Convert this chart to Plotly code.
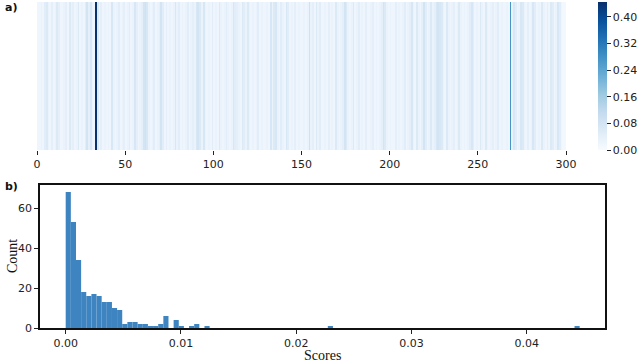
import numpy as np
import plotly.graph_objects as go

# a) per-position weights (300 positions), read off the strip
weights = [
    0.02, 0.02, 0.03, 0.02, 0.05, 0.06, 0.03, 0.02, 0.04, 0.02, 0.03, 0.06, 0.04, 0.02, 0.02, 0.03, 0.04, 0.02, 0.06, 0.03, 0.04, 0.02, 0.03, 0.06, 0.02,
    0.03, 0.02, 0.05, 0.08, 0.04, 0.07, 0.03, 0.02, 0.44, 0.06, 0.02, 0.04, 0.02, 0.03, 0.02, 0.03, 0.02, 0.07, 0.03, 0.02, 0.03, 0.05, 0.02, 0.03, 0.04,
    0.02, 0.03, 0.05, 0.02, 0.03, 0.07, 0.04, 0.02, 0.03, 0.04, 0.08, 0.09, 0.07, 0.03, 0.02, 0.03, 0.05, 0.02, 0.03, 0.04, 0.08, 0.05, 0.02, 0.04, 0.02,
    0.03, 0.02, 0.03, 0.07, 0.03, 0.05, 0.02, 0.03, 0.02, 0.03, 0.05, 0.02, 0.03, 0.04, 0.03, 0.07, 0.08, 0.06, 0.03, 0.07, 0.03, 0.02, 0.03, 0.02, 0.05,
    0.02, 0.03, 0.02, 0.06, 0.03, 0.02, 0.03, 0.05, 0.03, 0.02, 0.03, 0.07, 0.05, 0.04, 0.03, 0.02, 0.06, 0.05, 0.03, 0.06, 0.03, 0.02, 0.03, 0.02, 0.03,
    0.05, 0.02, 0.03, 0.02, 0.02, 0.03, 0.02, 0.07, 0.03, 0.06, 0.07, 0.03, 0.02, 0.05, 0.03, 0.02, 0.07, 0.05, 0.02, 0.03, 0.02, 0.04, 0.02, 0.03, 0.02,
    0.02, 0.03, 0.02, 0.03, 0.09, 0.03, 0.04, 0.02, 0.06, 0.03, 0.05, 0.02, 0.02, 0.03, 0.02, 0.04, 0.02, 0.03, 0.02, 0.06, 0.03, 0.02, 0.03, 0.04, 0.08,
    0.06, 0.03, 0.02, 0.03, 0.06, 0.02, 0.03, 0.05, 0.02, 0.03, 0.02, 0.04, 0.02, 0.02, 0.03, 0.04, 0.02, 0.03, 0.02, 0.03, 0.04, 0.08, 0.06, 0.03, 0.02,
    0.03, 0.02, 0.02, 0.04, 0.02, 0.03, 0.02, 0.03, 0.05, 0.02, 0.03, 0.04, 0.07, 0.03, 0.02, 0.06, 0.03, 0.02, 0.04, 0.08, 0.05, 0.02, 0.03, 0.06, 0.03,
    0.04, 0.07, 0.08, 0.07, 0.06, 0.03, 0.02, 0.06, 0.03, 0.02, 0.03, 0.04, 0.02, 0.03, 0.06, 0.03, 0.02, 0.03, 0.02, 0.03, 0.05, 0.07, 0.05, 0.02, 0.03,
    0.02, 0.06, 0.03, 0.02, 0.06, 0.03, 0.02, 0.03, 0.04, 0.02, 0.03, 0.05, 0.02, 0.03, 0.02, 0.02, 0.03, 0.02, 0.27, 0.03, 0.07, 0.05, 0.02, 0.03, 0.07,
    0.06, 0.03, 0.02, 0.04, 0.02, 0.03, 0.07, 0.05, 0.02, 0.03, 0.02, 0.06, 0.03, 0.02, 0.04, 0.02, 0.06, 0.05, 0.02, 0.03, 0.07, 0.05, 0.02, 0.01, 0.01,
]
positions = list(range(len(weights)))

# b) histogram of scores: 100 equal bins between min and max score
score_min = 0.0
score_max = 0.0446
bin_counts = [
    68, 53, 34, 18, 16, 17, 16, 13, 13, 10,
    9, 2, 3, 3, 2, 2, 1, 1, 2, 6,
    0, 4, 1, 0, 1, 2, 0, 1, 0, 0,
    0, 0, 0, 0, 0, 0, 0, 0, 0, 0,
    0, 0, 0, 0, 0, 0, 0, 0, 0, 0,
    0, 1, 0, 0, 0, 0, 0, 0, 0, 0,
    0, 0, 0, 0, 0, 0, 0, 0, 0, 0,
    0, 0, 0, 0, 0, 0, 0, 0, 0, 0,
    0, 0, 0, 0, 0, 0, 0, 0, 0, 0,
    0, 0, 0, 0, 0, 0, 0, 0, 0, 1,
]
edges = np.linspace(score_min, score_max, len(bin_counts) + 1)
bin_width = edges[1] - edges[0]

blues = [
    [0.0, "#f7fbff"], [0.125, "#deebf7"], [0.25, "#c6dbef"], [0.375, "#9ecae1"],
    [0.5, "#6baed6"], [0.625, "#4292c6"], [0.75, "#2171b5"], [0.875, "#08519c"],
    [1.0, "#08306b"],
]

W, H = 640, 362
tick_font = dict(family="DejaVu Sans", size=11, color="#222")
serif = dict(family="Liberation Serif", size=14, color="#111")
label_font = dict(family="DejaVu Sans", size=11, color="#111")

fig = go.Figure()

fig.add_trace(go.Heatmap(
    z=[weights],
    x=[p + 0.5 for p in positions],
    y=[0],
    colorscale=blues,
    zmin=0,
    zmax=0.445,
    xaxis="x",
    yaxis="y",
    colorbar=dict(
        x=598 / W, xanchor="left", xpad=0, y=1 - 150 / H, yanchor="bottom", ypad=0,
        len=148 / H, lenmode="fraction", thickness=9, thicknessmode="pixels",
        outlinewidth=0, ticks="outside", ticklen=4, tickwidth=1, tickcolor="#222",
        tickmode="array", tickvals=[0, 0.08, 0.16, 0.24, 0.32, 0.40],
        ticktext=["0.00", "0.08", "0.16", "0.24", "0.32", "0.40"],
        tickfont=tick_font,
    ),
))

fig.add_trace(go.Bar(
    x=edges[:-1],
    y=bin_counts,
    width=bin_width,
    offset=0,
    marker=dict(color="#3d84c0", line=dict(width=0)),
    xaxis="x2",
    yaxis="y2",
))

fig.update_layout(
    width=W,
    height=H,
    margin=dict(l=0, r=0, t=0, b=0, autoexpand=False),
    paper_bgcolor="white",
    plot_bgcolor="white",
    showlegend=False,
    xaxis=dict(
        domain=[37 / W, 566 / W], anchor="y", range=[0, 300],
        tickvals=[0, 50, 100, 150, 200, 250, 300], ticks="outside", ticklen=4,
        tickcolor="#222", showgrid=False, zeroline=False, showline=False,
        tickfont=tick_font,
    ),
    yaxis=dict(
        domain=[1 - 150 / H, 1 - 2 / H], anchor="x", showticklabels=False,
        showgrid=False, zeroline=False, ticks="",
    ),
    xaxis2=dict(
        domain=[40 / W, 605 / W], anchor="y2", range=[-0.00223, 0.0468],
        tickvals=[0, 0.01, 0.02, 0.03, 0.04], tickformat=".2f",
        ticks="outside", ticklen=4, tickcolor="#222", showgrid=False,
        zeroline=False, showline=True, linecolor="#111", linewidth=1.5,
        mirror=True, tickfont=tick_font,
    ),
    yaxis2=dict(
        domain=[1 - 328 / H, 1 - 185 / H], anchor="x2", range=[0, 71.5],
        tickvals=[0, 20, 40, 60], ticks="outside", ticklen=4, tickcolor="#222",
        showgrid=False, zeroline=False, showline=True, linecolor="#111",
        linewidth=1.5, mirror=True, tickfont=tick_font,
    ),
    annotations=[
        dict(text="<b>a)</b>", x=3 / W, y=1 - 8 / H, xref="paper", yref="paper",
             xanchor="left", yanchor="middle", showarrow=False, font=label_font),
        dict(text="<b>b)</b>", x=3 / W, y=1 - 186 / H, xref="paper", yref="paper",
             xanchor="left", yanchor="middle", showarrow=False, font=label_font),
        dict(text="Scores", x=322 / W, y=1 - 355 / H, xref="paper", yref="paper",
             xanchor="center", yanchor="middle", showarrow=False, font=serif),
        dict(text="Count", x=12 / W, y=1 - 256 / H, xref="paper", yref="paper",
             xanchor="center", yanchor="middle", showarrow=False, font=serif,
             textangle=-90),
    ],
)

# drop the browser's default 8px body margin so the figure fills the window
fig.write_html(
    "out.html",
    config={"displayModeBar": False},
    post_script="document.body.style.margin='0';",
)
